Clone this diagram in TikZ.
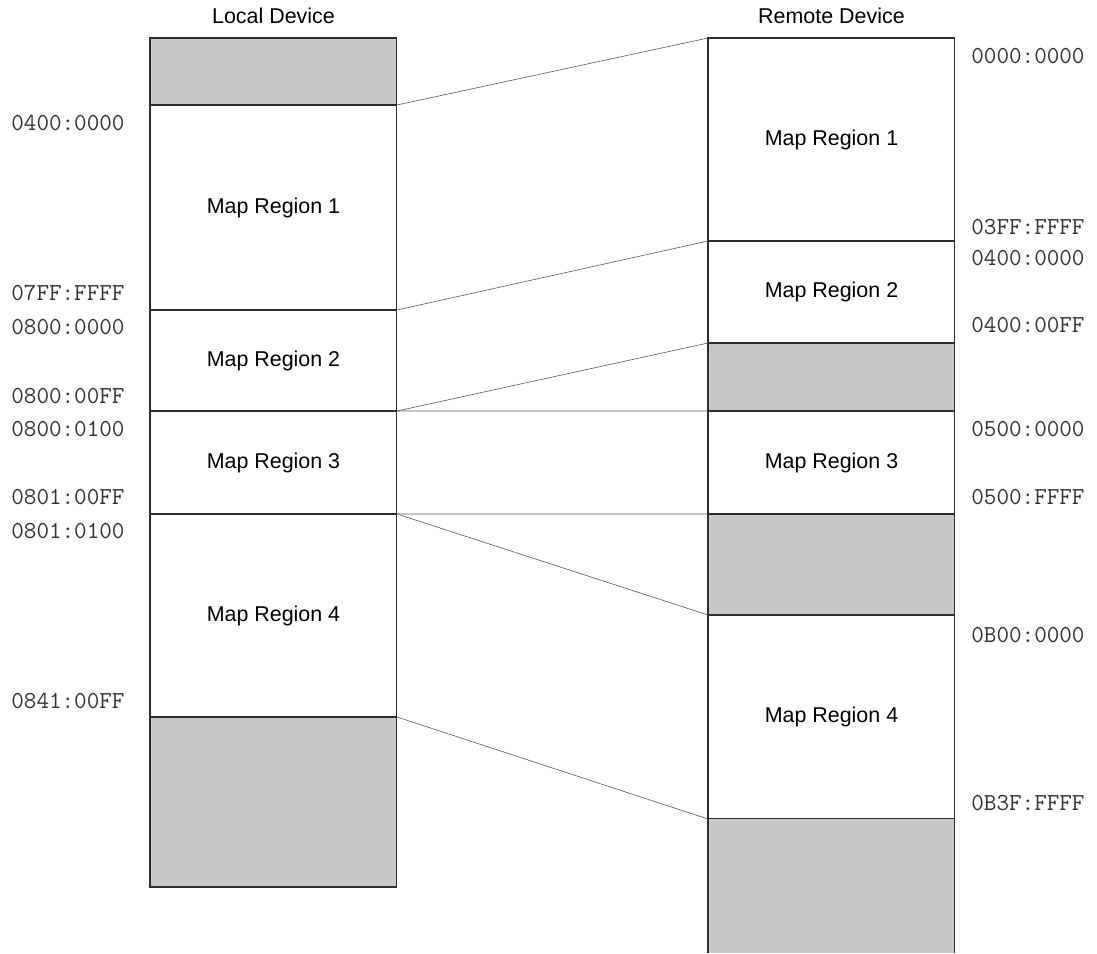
\documentclass[tikz,border=0pt]{standalone}
\usepackage{fontspec}
\setmainfont{Liberation Sans}
\usetikzlibrary{positioning}
\definecolor{unmapped}{RGB}{199,200,202}
\definecolor{edgegray}{RGB}{45,45,45}

\begin{document}
\begin{tikzpicture}[
    x=0.02cm, y=-0.02cm,
    region/.style={draw=edgegray, line width=0.6pt, inner sep=0pt, outer sep=0pt,
      minimum width=4.94cm, minimum height=#1*0.02cm, font=\fontsize{12.2}{14}\selectfont},
    hole/.style={region=#1, fill=unmapped},
    tail/.style={fill=unmapped, inner sep=0pt, outer sep=0pt, minimum width=4.94cm, minimum height=#1*0.02cm},
    addr/.style={anchor=west, inner sep=0pt, font=\ttfamily\fontsize{13.9}{16}\selectfont, text=black!80},
    title/.style={inner sep=0pt, font=\fontsize{12.2}{14}\selectfont},
    link/.style={draw=black!65, line width=0.35pt}
  ]
    \useasboundingbox (0,0) rectangle (1097,953);

    % local device
    \node[hole=67, anchor=north west] (l0) at (150,38) {};
    \node[region=205, below=0pt of l0] (l1) {Map Region 1};
    \node[region=101, below=0pt of l1] (l2) {Map Region 2};
    \node[region=103, below=0pt of l2] (l3) {Map Region 3};
    \node[region=203, below=0pt of l3] (l4) {Map Region 4};
    \node[hole=170, below=0pt of l4] (l5) {};
    \node[title, above=0.27cm of l0] (ltitle) {Local Device};

    % remote device
    \node[region=203, anchor=north west] (r0) at (708,38) {Map Region 1};
    \node[region=102, below=0pt of r0] (r1) {Map Region 2};
    \node[hole=68, below=0pt of r1] (r2) {};
    \node[region=103, below=0pt of r2] (r3) {Map Region 3};
    \node[hole=101, below=0pt of r3] (r4) {};
    \node[region=204, below=0pt of r4] (r5) {Map Region 4};
    \node[tail=134, below=0pt of r5] (r6) {};
    \draw[draw=edgegray, line width=0.6pt] (r6.north west) -- (r6.south west);
    \draw[draw=edgegray, line width=0.6pt] (r6.north east) -- (r6.south east);
    \node[title, above=0.27cm of r0] (rtitle) {Remote Device};

    % addresses
    \node[addr] (a1) at (11,123) {0400:0000};
    \node[addr] (a2) at (11,293) {07FF:FFFF};
    \node[addr] (a3) at (11,327) {0800:0000};
    \node[addr] (a4) at (11,396) {0800:00FF};
    \node[addr] (a5) at (11,429) {0800:0100};
    \node[addr] (a6) at (11,497) {0801:00FF};
    \node[addr] (a7) at (11,531) {0801:0100};
    \node[addr] (a8) at (11,701) {0841:00FF};

    \node[addr] (b1) at (971,56) {0000:0000};
    \node[addr] (b2) at (971,227) {03FF:FFFF};
    \node[addr] (b3) at (971,258) {0400:0000};
    \node[addr] (b4) at (971,325) {0400:00FF};
    \node[addr] (b5) at (971,429) {0500:0000};
    \node[addr] (b6) at (971,497) {0500:FFFF};
    \node[addr] (b7) at (971,635) {0B00:0000};
    \node[addr] (b8) at (971,803) {0B3F:FFFF};

    % mapping lines
    \draw[link] (l0.south east) -- (r0.north west);
    \draw[link] (l1.south east) -- (r1.north west);
    \draw[link] (l2.south east) -- (r2.north west);
    \draw[link] (l2.south east) -- (r3.north west);
    \draw[link] (l3.south east) -- (r3.south west);
    \draw[link] (l3.south east) -- (r5.north west);
    \draw[link] (l4.south east) -- (r6.north west);
  \end{tikzpicture}
\end{document}
